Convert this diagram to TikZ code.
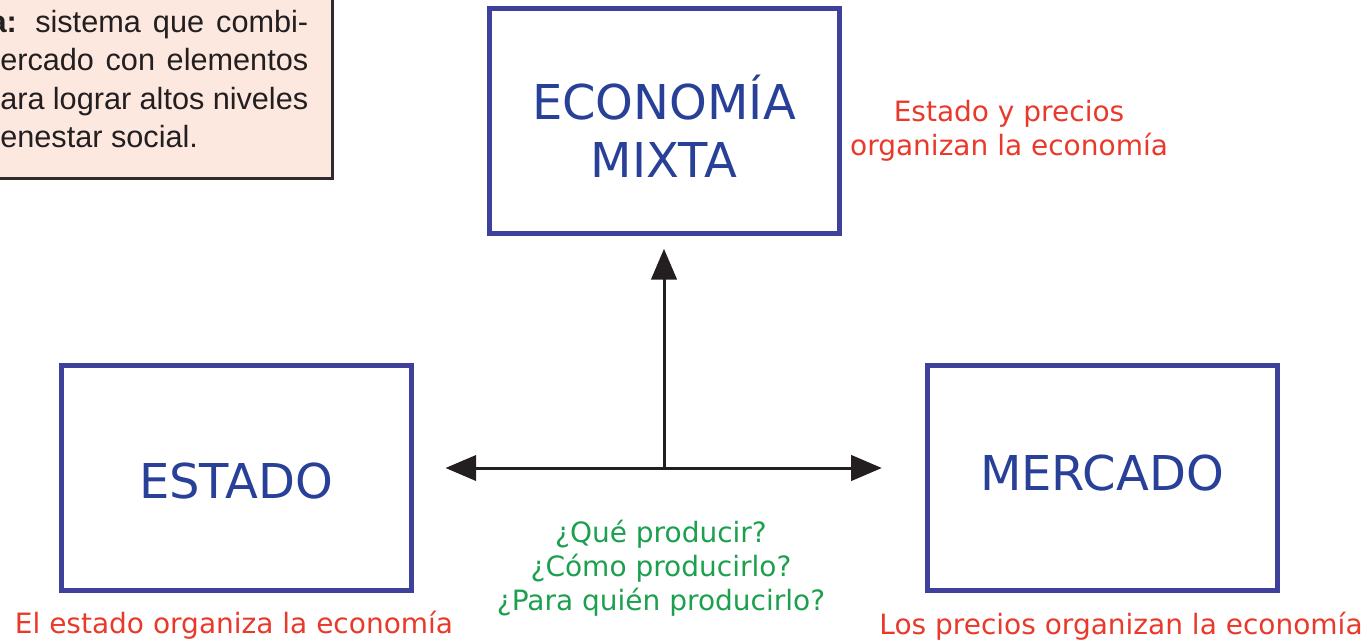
\documentclass[tikz,border=0pt]{standalone}
\usepackage{fontspec}
\setmainfont{DejaVu Sans}
\newfontfamily\arialfont{Liberation Sans}
\usetikzlibrary{positioning,arrows.meta}
\definecolor{cajaazul}{RGB}{62,64,155}
\definecolor{textoazul}{RGB}{40,64,152}
\definecolor{rojo}{RGB}{233,57,43}
\definecolor{verde}{RGB}{28,160,78}
\definecolor{rosa}{RGB}{253,232,224}
\definecolor{gris}{RGB}{45,43,44}
\definecolor{negro}{RGB}{35,31,32}

\begin{document}
\begin{tikzpicture}
            [%%%%%%%%%%%%%%%%%%%%%%%%%%%%%%%%%%%%%%%%%%%%%%%%%%%%%%%%%%
                x=0.75pt,y=-0.75pt,>={Triangle[length=23pt,width=19pt]},
                caja/.style={draw=cajaazul,line width=3.75pt,inner sep=0pt,
                             minimum width=262.5pt,minimum height=168.75pt},
                titulo/.style={text=textoazul,align=center,
                               font=\fontsize{36}{43.5}\selectfont},
                nota/.style={text=rojo,align=center,
                             font=\fontsize{21}{25.5}\selectfont},
                pregunta/.style={text=verde,align=center,
                                 font=\fontsize{21}{25.5}\selectfont},
                flecha/.style={->,draw=negro,line width=2.25pt}
            ]%%%%%%%%%%%%%%%%%%%%%%%%%%%%%%%%%%%%%%%%%%%%%%%%%%%%%%%%%%
            \useasboundingbox (0,0) rectangle (1366,639);

            % recuadro de la definicion (cortado por el borde)
            \node[fill=rosa,draw=gris,line width=2.25pt,minimum width=270pt,
                  minimum height=150pt,anchor=south east] (defcaja) at (334,180) {};
            \node[text=negro,inner sep=0pt,text width=231pt,align=justify,anchor=north west,
                  font=\arialfont\fontsize{23}{28.7}\selectfont] (deftexto) at (0,10)
                 {\hspace*{-0.35em}\textbf{a:} sistema que combi-\linebreak
                  ercado con elementos\linebreak
                  ara lograr altos niveles\linebreak
                  enestar social.};

            \node[caja] (mixta)   at (664,120.5) {};
            \node[caja] (estado)  at (236,477.5) {};
            \node[caja] (mercado) at (1102,477.5) {};

            \node[titulo] (mixtatxt)   at ([yshift=-4.5pt]mixta.center)  {ECONOMÍA\\MIXTA};
            \node[titulo] (estadotxt)  at ([yshift=-3pt]estado.center)   {ESTADO};
            \node[titulo] (mercadotxt) at ([yshift=3pt]mercado.center)   {MERCADO};

            \coordinate (cruce) at (664,468);
            \draw [flecha] (cruce) -- ([yshift=-10pt]mixta.south);
            \draw [flecha] (cruce) -- ([xshift=24pt]estado.east |- cruce);
            \draw [flecha] (cruce) -- ([xshift=-32pt]mercado.west |- cruce);

            \node[nota] (notamixta)   at (1009,131) {Estado y precios\\organizan la economía};
            \node[nota] (notaestado)  at (234,625)  {El estado organiza la economía};
            \node[nota] (notamercado) at (1121,626) {Los precios organizan la economía};
            \node[pregunta] (preguntas) at (661,568.5)
                 {¿Qué producir?\\¿Cómo producirlo?\\¿Para quién producirlo?};
        \end{tikzpicture}
\end{document}
